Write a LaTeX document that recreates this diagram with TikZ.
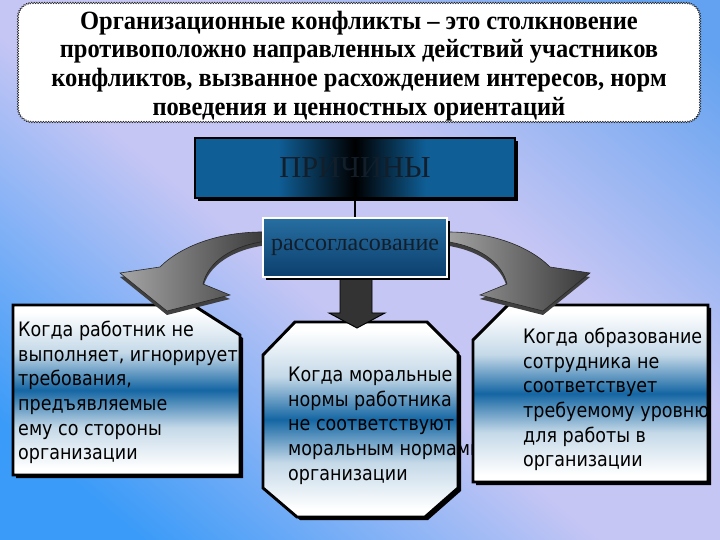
\documentclass[tikz,border=0pt]{standalone}
\usepackage{fontspec}
\setmainfont{Liberation Serif}
\newfontfamily\titlefont[FakeStretch=0.93]{Liberation Serif}
\newfontfamily\boxfont[FakeStretch=0.88]{DejaVu Sans}
\usetikzlibrary{arrows,decorations.pathmorphing,shadows}

\definecolor{bgblue}{HTML}{3A9BF8}
\definecolor{bglav}{HTML}{C6C6F4}
\definecolor{bgtop}{HTML}{62A2F0}
\definecolor{bandblue}{HTML}{1466A3}
\definecolor{capblue}{HTML}{0F5E96}
\definecolor{capdark}{HTML}{0B3F6E}
\definecolor{captext}{HTML}{121E2A}

\pgfdeclarehorizontalshading{bgshade}{100bp}{color(0bp)=(bgblue); color(22bp)=(bgblue);
  color(46bp)=(bglav); color(60bp)=(bglav); color(82bp)=(bgtop); color(100bp)=(bgtop)}
\pgfdeclarehorizontalshading{causeshade}{100bp}{color(0bp)=(capblue); color(38bp)=(capblue);
  color(50bp)=(black); color(61bp)=(capblue); color(100bp)=(capblue)}
\pgfdeclareverticalshading{bandshade}{100bp}{color(0bp)=(white); color(27bp)=(white);
  color(39bp)=(bandblue!25!white); color(50bp)=(bandblue); color(61bp)=(bandblue!25!white);
  color(73bp)=(white); color(100bp)=(white)}

% curved block arrow, left hand; the right one is its mirror image
\newcommand{\bendarrow}{(268,232) .. controls (220,231) and (181,246) .. (160,267)
  -- (120,273) -- (167,311) -- (230,295) -- (203,284)
  .. controls (208,262) and (232,245) .. (268,241) -- cycle}

\begin{document}
\begin{tikzpicture}[x=0.03cm,y=-0.03cm,
  title_frame/.style={fill=white,rounded corners=12pt,
    postaction={draw=black!85,line width=0.45pt,sharp corners,decorate,
      decoration={zigzag,segment length=2.2pt,amplitude=0.7pt}}},
  title_text/.style={align=center,inner sep=0pt,
    font={\titlefont\bfseries\fontsize{22.5pt}{24.5pt}\selectfont}},
  cause_box/.style={draw=black,line width=2.5pt,shading=causeshade,
    minimum width=9.6cm,minimum height=1.8cm,text=captext,
    drop shadow={shadow xshift=2.5pt,shadow yshift=-2.5pt,fill=black,opacity=1},
    font={\fontsize{26pt}{28pt}\selectfont}},
  mismatch_box/.style={draw=white,line width=1.5pt,top color=capblue!90!white,bottom color=capdark,
    minimum width=5.52cm,minimum height=1.77cm,text=captext,
    drop shadow={shadow xshift=2.5pt,shadow yshift=-2.5pt,fill=black,opacity=1},
    font={\fontsize{20.5pt}{22pt}\selectfont}},
  case_shape/.style={shading=bandshade,draw=black,line width=2.5pt},
  case_shadow/.style={fill=black,shift={(3,3)}},
  case_text/.style={anchor=north west,inner sep=0pt,align=left,
    font={\boxfont\fontsize{17pt}{21pt}\selectfont}},
  bend_arrow/.style={left color=black!35,right color=black!78,draw=black!85,line width=0.5pt},
  bend_edge/.style={fill=black!75,shift={(0,4)}}]

\shade[shading=bgshade,shading angle=50] (0,0) rectangle (720,540);
\useasboundingbox (0,0) rectangle (720,540);

\path[title_frame] (18,3) rectangle (700,122);
\node[title_text] (title) at (359,66) {Организационные конфликты – это столкновение\\
  противоположно направленных действий участников\\
  конфликтов, вызванное расхождением интересов, норм\\
  поведения и ценностных ориентаций};

% three cases
\fill[case_shadow] (13,305) -- (193,305) -- (240,335) -- (240,475) -- (13,475) -- cycle;
\shade[case_shape] (13,305) -- (193,305) -- (240,335) -- (240,475) -- (13,475) -- cycle;
\node[case_text] (worker) at (18,321) {Когда работник не\\выполняет, игнорирует\\требования,\\
  предъявляемые\\ему со стороны\\организации};

\fill[case_shadow] (295,322) -- (427,322) -- (458,353) -- (458,488) -- (425,517)
  -- (297,517) -- (263,488) -- (263,355) -- cycle;
\shade[case_shape] (295,322) -- (427,322) -- (458,353) -- (458,488) -- (425,517)
  -- (297,517) -- (263,488) -- (263,355) -- cycle;
\node[case_text] (moral) at (288,367) {Когда моральные\\нормы работника\\не соответствуют\\
  моральным нормами\\организации};

\fill[case_shadow] (508,305) -- (708,305) -- (708,482) -- (473,482) -- (473,340) -- cycle;
\shade[case_shape] (508,305) -- (708,305) -- (708,482) -- (473,482) -- (473,340) -- cycle;
\node[case_text] (educ) at (523,328) {Когда образование\\сотрудника не\\соответствует\\
  требуемому уровню\\для работы в\\организации};

% arrows
\fill[bend_edge] \bendarrow;
\shade[bend_arrow] \bendarrow;
\begin{scope}[shift={(710,0)},xscale=-1]
  \fill[bend_edge] \bendarrow;
  \shade[bend_arrow] \bendarrow;
\end{scope}
\shade[left color=black!80,middle color=black!45,right color=black!80,draw=black,line width=0.8pt]
  (340,270) -- (372,270) -- (372,313) -- (385,313) -- (357,328) -- (329,313) -- (340,313) -- cycle;

\node[cause_box] (causes) at (355,168) {ПРИЧИНЫ};
\node[mismatch_box] (mismatch) at (355,247.5) {рассогласование};
\draw[line width=2.5pt] (causes.south) -- (mismatch.north);

\end{tikzpicture}
\end{document}
